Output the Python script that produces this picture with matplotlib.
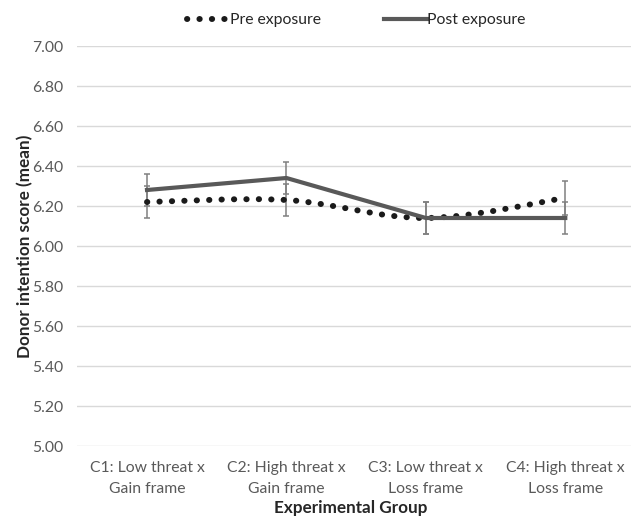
import matplotlib
matplotlib.use("Agg")
import matplotlib.pyplot as plt
from matplotlib.path import Path
from matplotlib.patches import PathPatch
from matplotlib.lines import Line2D
import numpy as np

plt.rcParams['font.family'] = ['Lato', 'DejaVu Sans']

categories = ["C1: Low threat x\nGain frame", "C2: High threat x\nGain frame",
              "C3: Low threat x\nLoss frame", "C4: High threat x\nLoss frame"]
pre_values = [6.22, 6.23, 6.14, 6.24]
post_values = [6.28, 6.34, 6.14, 6.14]
pre_err = [0.08, 0.08, 0.08, 0.085]
post_err = [0.08, 0.08, 0.08, 0.08]
y_ticks = [5.00, 5.20, 5.40, 5.60, 5.80, 6.00, 6.20, 6.40, 6.60, 6.80, 7.00]

W, H = 631, 520
fig = plt.figure(figsize=(W / 100, H / 100), dpi=100)
ax = fig.add_axes([77.3 / W, 1 - 446 / H, (635 - 77.3) / W, 400 / H])

x = np.arange(len(categories))
tick_col = '#595959'
grid_col = '#d9d9d9'
err_col = '#808080'
pre_col = '#1a1a1a'
post_col = '#595959'
title_col = '#262626'

# error bars
ax.errorbar(x, pre_values, yerr=pre_err, fmt='none', ecolor=err_col, elinewidth=1.1,
            capsize=2.3, capthick=1.1, zorder=2)
ax.errorbar(x, post_values, yerr=post_err, fmt='none', ecolor=err_col, elinewidth=1.1,
            capsize=2.3, capthick=1.1, zorder=2)

# smoothed pre line (Bezier, Excel-style smoothing)
pts = np.column_stack([x, pre_values]).astype(float)
n = len(pts)
verts = [pts[0]]
codes = [Path.MOVETO]
for i in range(n - 1):
    p0 = pts[i - 1] if i > 0 else pts[i]
    p1 = pts[i]
    p2 = pts[i + 1]
    p3 = pts[i + 2] if i + 2 < n else pts[i + 1]
    c1 = p1 + (p2 - p0) / 6.0
    c2 = p2 - (p3 - p1) / 6.0
    verts += [c1, c2, p2]
    codes += [Path.CURVE4] * 3
dot_style = (0, (0.05, 2.03))
pre_patch = PathPatch(Path(verts, codes), fill=False, edgecolor=pre_col, lw=4.3,
                      linestyle=dot_style, capstyle='round', zorder=3)
ax.add_patch(pre_patch)

# post line
ax.plot(x, post_values, color=post_col, lw=3.0, solid_joinstyle='miter', zorder=4)

ax.set_xlim(-0.5, len(categories) - 0.5)
ax.set_ylim(5.0, 7.0)
ax.set_yticks(y_ticks)
ax.set_yticklabels([f"{v:.2f}" for v in y_ticks])
ax.set_xticks(x)
ax.set_xticklabels(categories, linespacing=1.6)
ax.tick_params(axis='both', length=0, labelsize=11.3, colors=tick_col)
ax.tick_params(axis='y', pad=10)
ax.tick_params(axis='x', pad=11)
ax.grid(axis='y', color=grid_col, lw=1.0)
ax.set_axisbelow(True)
for s in ax.spines.values():
    s.set_visible(False)

fig.text(25 / W, 1 - 246 / H, "Donor intention score (mean)", fontsize=12.3, fontweight='bold',
         color=title_col, rotation=90, ha='center', va='center')
fig.text(351 / W, 1 - 508 / H, "Experimental Group", fontsize=12.3, fontweight='bold',
         color=title_col, ha='center', va='center')

handles = [Line2D([], [], color=pre_col, lw=4.3, linestyle=dot_style, dash_capstyle='round'),
           Line2D([], [], color=post_col, lw=3.0)]
fig.legend(handles, ["Pre exposure", "Post exposure"], loc='center', bbox_to_anchor=(0.565, 1 - 20 / H),
           ncol=2, frameon=False, fontsize=11.3, handlelength=2.7, handletextpad=0.05, columnspacing=4.0,
           labelcolor=title_col)

fig.savefig("out.png", dpi=100)
